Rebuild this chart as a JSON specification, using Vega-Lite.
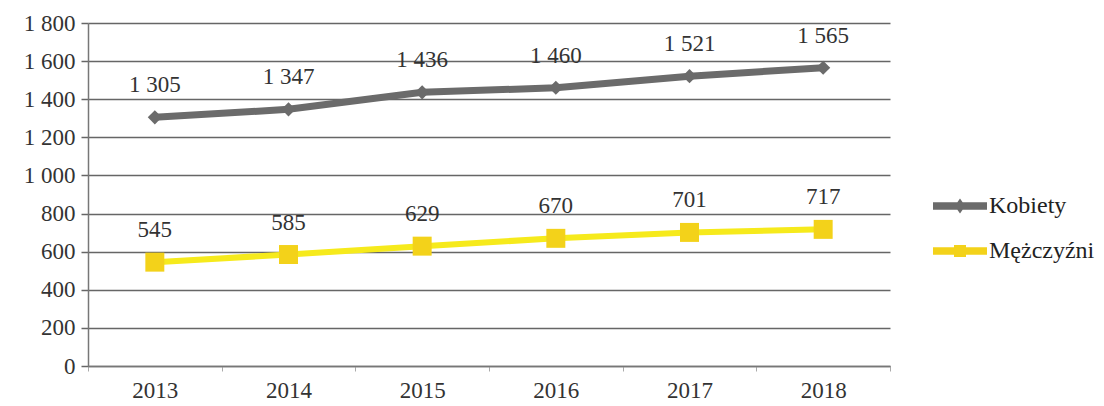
{
  "$schema": "https://vega.github.io/schema/vega-lite/v6.json",
  "autosize": "none",
  "width": 802,
  "height": 343,
  "padding": {"left": 88, "top": 23, "right": 214, "bottom": 40},
  "background": "white",
  "config": {
    "locale": {"number": {"decimal": ",", "thousands": " ", "grouping": [3], "currency": ["", " zł"]}},
    "font": "Liberation Serif",
    "view": {"stroke": null}
  },
  "data": {
    "values": [
      {"year": "2013", "series": "Kobiety", "value": 1305},
      {"year": "2014", "series": "Kobiety", "value": 1347},
      {"year": "2015", "series": "Kobiety", "value": 1436},
      {"year": "2016", "series": "Kobiety", "value": 1460},
      {"year": "2017", "series": "Kobiety", "value": 1521},
      {"year": "2018", "series": "Kobiety", "value": 1565},
      {"year": "2013", "series": "Mężczyźni", "value": 545},
      {"year": "2014", "series": "Mężczyźni", "value": 585},
      {"year": "2015", "series": "Mężczyźni", "value": 629},
      {"year": "2016", "series": "Mężczyźni", "value": 670},
      {"year": "2017", "series": "Mężczyźni", "value": 701},
      {"year": "2018", "series": "Mężczyźni", "value": 717}
    ]
  },
  "encoding": {
    "x": {
      "field": "year", "type": "ordinal", "bandPosition": 0.5,
      "scale": {"type": "band", "paddingInner": 0, "paddingOuter": 0},
      "axis": {
        "title": null, "labelAngle": 0, "tickBand": "extent",
        "domainColor": "#777", "domainWidth": 1.5, "tickColor": "#aaa", "tickSize": 5,
        "labelFont": "Liberation Serif", "labelFontSize": 23, "labelColor": "#333", "labelPadding": 8,
        "grid": false
      }
    },
    "y": {
      "field": "value", "type": "quantitative",
      "scale": {"domain": [0, 1800], "nice": false},
      "axis": {
        "title": null, "values": [0, 200, 400, 600, 800, 1000, 1200, 1400, 1600, 1800],
        "format": ",d", "grid": true, "gridColor": "#666", "gridWidth": 1.5,
        "domain": true, "domainColor": "#777", "domainWidth": 1.5,
        "tickColor": "#666", "tickSize": 7, "tickWidth": 1.5,
        "labelFont": "Liberation Serif", "labelFontSize": 23, "labelColor": "#333", "labelPadding": 6
      }
    }
  },
  "layer": [
    {
      "transform": [{"filter": "datum.series === 'Kobiety'"}],
      "mark": {"type": "line", "strokeWidth": 7, "color": "#6b6b6b"},
      "encoding": {}
    },
    {
      "transform": [{"filter": "datum.series === 'Mężczyźni'"}],
      "mark": {"type": "line", "strokeWidth": 6, "color": "#f6ea1c"},
      "encoding": {}
    },
    {
      "transform": [{"filter": "datum.series === 'Kobiety'"}],
      "mark": {"type": "point", "shape": "diamond", "filled": true, "size": 200, "color": "#6b6b6b", "opacity": 1},
      "encoding": {}
    },
    {
      "transform": [{"filter": "datum.series === 'Mężczyźni'"}],
      "mark": {"type": "point", "shape": "square", "filled": true, "size": 360, "color": "#f3d21a", "opacity": 1},
      "encoding": {}
    },
    {
      "mark": {"type": "text", "dy": -32, "baseline": "middle", "fontSize": 23, "font": "Liberation Serif", "color": "#333"},
      "encoding": {"text": {"field": "value", "type": "quantitative", "format": ",d"}}
    },
    {
      "mark": {"type": "point", "filled": true, "opacity": 0},
      "encoding": {
        "color": {
          "field": "series", "type": "nominal",
          "scale": {"domain": ["Kobiety", "Mężczyźni"], "range": ["#6b6b6b", "#f3d21a"]},
          "legend": {
            "title": null, "orient": "none", "legendX": 857, "legendY": 168,
            "symbolSize": 900, "symbolOpacity": 1, "symbolStrokeWidth": 0, "labelOffset": 14, "rowPadding": 18,
            "labelFont": "Liberation Serif", "labelFontSize": 24, "labelColor": "#222"
          }
        },
        "shape": {
          "field": "series", "type": "nominal",
          "scale": {"domain": ["Kobiety", "Mężczyźni"], "range": [
            "M-1.8,-0.25H1.8V0.25H-1.8Z M0,-0.5L0.35,0L0,0.5L-0.35,0Z",
            "M-1.8,-0.25H1.8V0.25H-1.8Z M-0.4,-0.4H0.4V0.4H-0.4Z"
          ]},
          "legend": {
            "title": null, "orient": "none", "legendX": 857, "legendY": 168,
            "symbolSize": 900, "symbolOpacity": 1, "symbolStrokeWidth": 0, "labelOffset": 14, "rowPadding": 18,
            "labelFont": "Liberation Serif", "labelFontSize": 24, "labelColor": "#222"
          }
        }
      }
    }
  ]
}
